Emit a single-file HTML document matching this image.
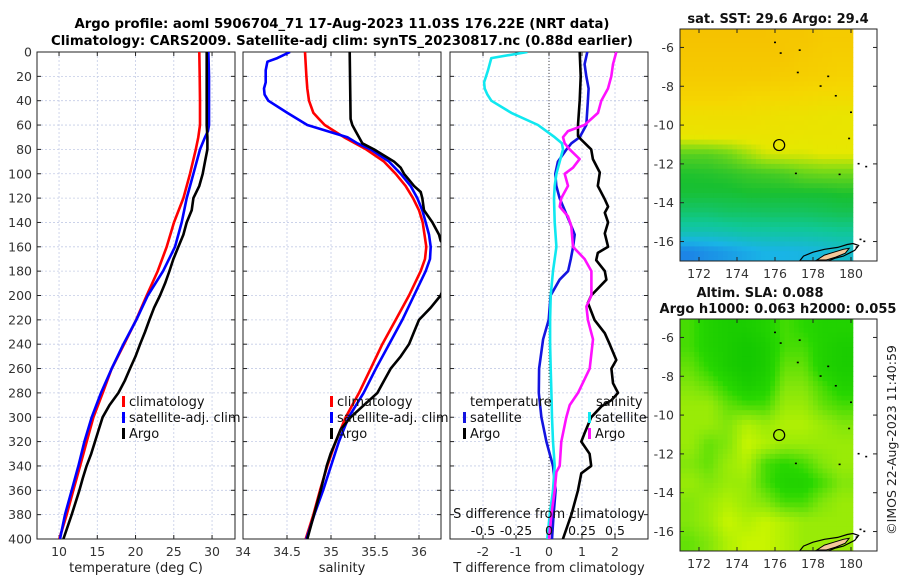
<!DOCTYPE html>
<html><head><meta charset="utf-8"><style>
html,body{margin:0;padding:0;background:#fff;}
svg{display:block;font-family:"DejaVu Sans","Liberation Sans",sans-serif;}
</style></head><body>
<svg id="fig" width="900" height="580" viewBox="0 0 900 580" xmlns="http://www.w3.org/2000/svg">
<defs>
<clipPath id="c1"><rect x="37" y="52" width="198" height="487"/></clipPath>
<clipPath id="c2"><rect x="243" y="52" width="198" height="487"/></clipPath>
<clipPath id="c3"><rect x="450" y="52" width="198" height="487"/></clipPath>
<clipPath id="m1"><rect x="680" y="29" width="197" height="232"/></clipPath>
<clipPath id="m2"><rect x="680" y="319" width="197" height="232"/></clipPath>
</defs>
<text x="342" y="28" text-anchor="middle" font-weight="bold" font-size="13" textLength="535" lengthAdjust="spacingAndGlyphs">Argo profile: aoml 5906704_71 17-Aug-2023 11.03S 176.22E (NRT data)</text>
<text x="342" y="45" text-anchor="middle" font-weight="bold" font-size="13" textLength="582" lengthAdjust="spacingAndGlyphs">Climatology: CARS2009. Satellite-adj clim: synTS_20230817.nc (0.88d earlier)</text>
<g id="layer"></g>
</svg>
<script>
// ---------- data: panel 1 temperature ----------
const climTDepth=[0,20,40,60,70,80,100,120,140,160,180,200,220,240,260,280,300,320,340,360,380,400];
const climT=[28.34,28.39,28.43,28.43,28.2,27.87,27.12,26.25,25.03,24.07,22.9,21.46,20.07,18.5,16.88,15.71,14.49,13.62,12.75,11.87,11.0,10.04];
const satTDepth=[0,20,40,60,65,70,80,100,120,140,160,180,200,220,240,260,280,300,320,340,360,380,400];
const satT=[29.52,29.6,29.6,29.6,29.47,29.08,28.43,27.56,26.69,26.03,25.16,23.6,21.6,20.1,18.41,16.88,15.49,14.27,13.31,12.53,11.66,10.78,10.13];
const argoTDepth=[0,20,40,60,70,80,90,100,110,120,130,140,150,160,170,180,190,200,210,220,230,240,250,260,270,280,290,300,310,320,330,340,350,360,380,400];
const argoT=[29.3,29.3,29.3,29.3,29.39,29.39,29.08,28.78,28.34,27.56,27.34,26.69,26.25,25.6,24.95,24.42,23.86,23.2,22.42,21.81,21.24,20.6,20.0,19.28,18.6,17.76,16.6,15.7,15.2,14.7,14.2,13.6,13.1,12.66,11.66,10.57];
// ---------- data: panel 2 salinity ----------
const climSDepth=[0,10,20,30,40,50,55,60,70,80,90,100,110,120,130,140,160,170,180,200,220,240,260,280,300,320,340,360,380,400];
const climS=[34.705,34.712,34.72,34.731,34.75,34.80,34.864,34.928,35.148,35.4,35.602,35.735,35.848,35.932,36.0,36.042,36.083,36.068,36.019,35.886,35.735,35.583,35.451,35.318,35.167,35.053,34.958,34.875,34.80,34.712];
const satSDepth=[0,5,8,15,25,30,35,40,50,60,70,75,80,90,100,110,120,130,140,150,160,170,180,200,220,240,260,280,300,320,340,360,380,400];
const satS=[34.534,34.39,34.277,34.258,34.258,34.239,34.246,34.288,34.504,34.731,35.186,35.3,35.451,35.659,35.792,35.905,35.981,36.038,36.076,36.114,36.133,36.125,36.076,35.943,35.81,35.66,35.51,35.37,35.2,35.09,35.0,34.91,34.81,34.72];
const argoSDepth=[0,55,60,65,70,75,80,85,90,95,100,105,110,115,120,130,140,150,155,160,170,180,190,200,210,220,230,240,250,260,270,280,290,300,310,320,330,340,360,380,400];
const argoS=[35.212,35.223,35.242,35.28,35.318,35.356,35.489,35.602,35.716,35.792,35.83,35.886,35.943,36.019,36.038,36.057,36.152,36.227,36.246,36.3,36.35,36.35,36.3,36.246,36.133,36.0,35.943,35.886,35.792,35.678,35.602,35.527,35.375,35.223,35.11,35.053,34.996,34.951,34.883,34.807,34.731];
// ---------- data: panel 3 differences ----------
const satDTDepth=[0,10,20,30,40,60,70,75,80,90,100,110,120,140,150,160,170,180,187,200,220,236,260,280,300,320,340,360,380,400];
const satDT=[1.16,1.08,1.13,1.2,1.18,1.13,0.93,0.68,0.53,0.27,0.19,0.22,0.32,0.63,0.78,0.73,0.66,0.58,0.32,0.05,-0.01,-0.18,-0.3,-0.31,-0.23,-0.08,0.12,0.2,0.14,0.09];
const argoDTDepth=[0,20,40,60,69,72,80,88,99,110,121,127,132,140,149,160,165,171,180,187,200,206,220,231,240,253,260,272,280,286,291,300,313,320,330,340,346,360,380,400];
const argoDT=[0.93,0.96,0.93,0.88,0.88,0.98,1.28,1.33,1.54,1.48,1.69,1.79,1.69,1.79,1.69,1.79,1.48,1.43,1.69,1.74,1.28,1.18,1.38,1.69,1.84,2.04,1.89,1.94,2.09,1.89,1.59,1.28,1.08,0.98,1.23,1.28,0.98,0.88,0.68,0.42];
const satDSDepth=[0,5,15,25,30,35,40,50,60,70,75,80,90,100,110,120,140,160,180,200,220,240,260,280,300,320,340,360,380,400];
const satDS=[-0.164,-0.437,-0.462,-0.492,-0.487,-0.467,-0.437,-0.285,-0.083,0.043,0.098,0.106,0.081,0.056,0.043,0.038,0.043,0.056,0.03,0.013,0.008,0.008,0.013,0.018,0.023,0.03,0.043,0.03,0.005,-0.013];
const argoDSDepth=[0,10,20,30,40,50,60,65,70,75,80,88,95,100,110,120,127,135,143,160,170,180,200,209,220,236,260,280,290,300,320,340,345,360,380,400];
const argoDS=[0.51,0.485,0.472,0.447,0.396,0.371,0.27,0.144,0.106,0.119,0.157,0.232,0.182,0.119,0.144,0.093,0.081,0.144,0.169,0.182,0.27,0.321,0.321,0.283,0.295,0.333,0.308,0.22,0.157,0.131,0.093,0.081,0.056,0.043,0.018,0];
// ---------- ticks ----------
const depthTicks=[0,20,40,60,80,100,120,140,160,180,200,220,240,260,280,300,320,340,360,380,400];
const tempTicks=[10,15,20,25,30];
const salTicks=[34,34.5,35,35.5,36];
const dTTicks=[-2,-1,0,1,2];
const dSTicks=[-0.5,-0.25,0,0.25,0.5];
const dSTickLabels=["-0.5","-0.25","0","0.25","0.5"];
// ---------- map data ----------
const mapLons=[171.5,172.5,173.5,174.5,175.5,176.5,177.5,178.5,179.5];
const mapLats=[-5.5,-6.5,-7.5,-8.5,-9.5,-10.5,-11.5,-12.5,-13.5,-14.5,-15.5,-16.5];
const sstRows=[
[29.85,29.85,29.85,29.85,29.85,29.8,29.8,29.75,29.75],
[29.8,29.8,29.8,29.8,29.8,29.8,29.75,29.72,29.7],
[29.75,29.75,29.75,29.75,29.75,29.72,29.7,29.68,29.65],
[29.65,29.65,29.65,29.62,29.6,29.6,29.58,29.55,29.55],
[29.5,29.5,29.5,29.5,29.48,29.45,29.45,29.42,29.4],
[29.4,29.42,29.42,29.42,29.42,29.42,29.4,29.4,29.4],
[29.05,29.05,29.1,29.2,29.3,29.32,29.32,29.35,29.35],
[28.92,28.93,28.95,28.98,29.0,29.02,29.08,29.1,29.1],
[28.88,28.88,28.88,28.9,28.9,28.9,28.9,28.9,28.92],
[28.72,28.72,28.75,28.75,28.76,28.76,28.76,28.78,28.8],
[28.5,28.5,28.52,28.55,28.55,28.56,28.56,28.58,28.6],
[28.1,28.15,28.2,28.25,28.3,28.3,28.32,28.35,28.4]];
const slaRows=[
[0.09,0.07,0.06,0.06,0.07,0.09,0.08,0.07,0.07],
[0.09,0.07,0.06,0.05,0.06,0.09,0.09,0.07,0.06],
[0.10,0.08,0.06,0.05,0.06,0.10,0.10,0.07,0.06],
[0.11,0.10,0.08,0.06,0.07,0.11,0.11,0.09,0.07],
[0.12,0.12,0.10,0.09,0.09,0.12,0.12,0.10,0.09],
[0.12,0.12,0.11,0.13,0.12,0.13,0.13,0.12,0.11],
[0.12,0.10,0.11,0.14,0.13,0.12,0.12,0.12,0.12],
[0.11,0.10,0.12,0.13,0.09,0.08,0.09,0.11,0.12],
[0.12,0.11,0.12,0.12,0.09,0.07,0.07,0.09,0.11],
[0.11,0.12,0.13,0.12,0.11,0.09,0.09,0.11,0.12],
[0.11,0.12,0.14,0.13,0.14,0.13,0.12,0.12,0.12],
[0.10,0.11,0.13,0.14,0.14,0.13,0.12,0.12,0.12]];
const islands=[[176.0,-5.75],[176.3,-6.3],[177.3,-6.15],[177.2,-7.3],[178.8,-7.5],[178.4,-8.0],[179.2,-8.5],[180.0,-9.35],[179.9,-10.7],[177.1,-12.5],[179.4,-12.55],[180.4,-12.0],[180.8,-12.15],[180.5,-15.9],[180.7,-16.0],[180.3,-16.3]];
const fijiOutline=[[177.3,-17.0],[177.5,-16.75],[178.0,-16.55],[178.6,-16.4],[179.3,-16.3],[179.8,-16.15],[180.1,-16.1],[180.4,-16.2],[180.2,-16.45],[179.9,-16.6],[179.6,-16.75],[179.2,-16.85],[178.8,-17.0]];
const fijiLand=[[178.2,-16.95],[178.6,-16.7],[179.1,-16.55],[179.6,-16.4],[179.9,-16.35],[179.7,-16.6],[179.2,-16.8],[178.7,-16.95]];
const argoPos=[176.22,-11.03];
const mapLatTicks=[-6,-8,-10,-12,-14,-16];
const mapLonTicks=[172,174,176,178,180];

const NS='http://www.w3.org/2000/svg';
const L=document.getElementById('layer');
function mk(tag,attrs,parent){const e=document.createElementNS(NS,tag);for(const k in attrs)e.setAttribute(k,attrs[k]);(parent||L).appendChild(e);return e;}
const TOP=52,BOT=539;
const yD=d=>TOP+(d/400)*(BOT-TOP);
function lin(d0,d1,r0,r1){return v=>r0+(v-d0)/(d1-d0)*(r1-r0);}
const P=[
 {x0:37,x:lin(7.12,33,37,235),clip:'c1',name:'temperature-panel'},
 {x0:243,x:lin(34,36.25,243,441),clip:'c2',name:'salinity-panel'},
 {x0:450,x:lin(-3,3,450,648),clip:'c3',name:'difference-panel'}];
const xS3=lin(-0.75,0.75,450,648);

function panelFrame(p,ticks){
  const g=mk('g',{});
  
  
  depthTicks.forEach(d=>{mk('line',{x1:p.x0,x2:p.x0+198,y1:yD(d),y2:yD(d),stroke:'#c4cce6','stroke-width':0.8,'stroke-dasharray':'2,2'},g);
    mk('line',{x1:p.x0,x2:p.x0+4,y1:yD(d),y2:yD(d),stroke:'#222'},g);
    mk('line',{x1:p.x0+194,x2:p.x0+198,y1:yD(d),y2:yD(d),stroke:'#222'},g);});
  ticks.forEach(t=>{const x=p.x(t);mk('line',{x1:x,x2:x,y1:TOP,y2:BOT,stroke:'#c4cce6','stroke-width':0.8,'stroke-dasharray':'2,2'},g);
    mk('line',{x1:x,x2:x,y1:TOP,y2:TOP+4,stroke:'#222'},g);mk('line',{x1:x,x2:x,y1:BOT-4,y2:BOT,stroke:'#222'},g);
    const t1=mk('text',{x:x,y:556,'text-anchor':'middle','font-size':12.5,fill:'#333'},g);t1.textContent=String(t);
    
    });
  mk('rect',{x:p.x0,y:TOP,width:198,height:BOT-TOP,fill:'none',stroke:'#222','stroke-width':1},g);
}
panelFrame(P[0],tempTicks);panelFrame(P[1],salTicks);panelFrame(P[2],dTTicks);
depthTicks.forEach(d=>{const t=mk('text',{x:32,y:yD(d)+4.5,'text-anchor':'end','font-size':12.5,fill:'#333'});t.textContent=String(d);
  
  });
const zl=mk('line',{x1:P[2].x(0),x2:P[2].x(0),y1:TOP,y2:BOT,stroke:'#444','stroke-width':1,'stroke-dasharray':'1,2'});



function curve(xf,vals,depths,color,clip,name){
  let d='';vals.forEach((v,i)=>{d+=(i?'L':'M')+xf(v).toFixed(1)+','+yD(depths[i]).toFixed(1);});
  const e=mk('path',{d:d,fill:'none',stroke:color,'stroke-width':2.6,'stroke-linejoin':'round','clip-path':'url(#'+clip+')'});
  
  
}
curve(P[0].x,climT,climTDepth,'#ff0000','c1','climatology-temperature-line');
curve(P[0].x,satT,satTDepth,'#0000ff','c1','satellite-temperature-line');
curve(P[0].x,argoT,argoTDepth,'#000','c1','argo-temperature-line');
curve(P[1].x,climS,climSDepth,'#ff0000','c2','climatology-salinity-line');
curve(P[1].x,satS,satSDepth,'#0000ff','c2','satellite-salinity-line');
curve(P[1].x,argoS,argoSDepth,'#000','c2','argo-salinity-line');
curve(P[2].x,satDT,satDTDepth,'#1414e0','c3','satellite-t-diff-line');
curve(P[2].x,argoDT,argoDTDepth,'#000','c3','argo-t-diff-line');
curve(xS3,satDS,satDSDepth,'#10e8f0','c3','satellite-s-diff-line');
curve(xS3,argoDS,argoDSDepth,'#ff10ff','c3','argo-s-diff-line');

function txt(x,y,s,size,extra,name){const t=mk('text',Object.assign({x:x,y:y,'font-size':size,fill:'#111'},extra||{}));t.textContent=s;
  
  return t;}
function legendEntry(x,y,color,label,name){
  const r=mk('rect',{x:x,y:y-10,width:3,height:11,fill:color});
  
  
  txt(x+7,y,label,13,{},name);}
legendEntry(122,406,'#ff0000','climatology','legend-climatology');
legendEntry(122,422,'#0000ff','satellite-adj. clim','legend-satellite-adj');
legendEntry(122,438,'#000','Argo','legend-argo');
legendEntry(330,406,'#ff0000','climatology','legend-climatology-2');
legendEntry(330,422,'#0000ff','satellite-adj. clim','legend-satellite-adj-2');
legendEntry(330,438,'#000','Argo','legend-argo-2');
txt(470,406,'temperature',13,{},'legend-temperature-header');
legendEntry(463,422,'#1414e0','satellite','legend-t-satellite');
legendEntry(463,438,'#000','Argo','legend-t-argo');
txt(596,406,'salinity',13,{},'legend-salinity-header');
legendEntry(588,422,'#10e8f0','satellite','legend-s-satellite');
legendEntry(588,438,'#ff10ff','Argo','legend-s-argo');
txt(549,518,'S difference from climatology',13,{'text-anchor':'middle'},'s-axis-title');
dSTicks.forEach((t,i)=>txt(xS3(t),535,dSTickLabels[i],12.5,{'text-anchor':'middle'},'s-tick-label'));
txt(136,572,'temperature (deg C)',13,{'text-anchor':'middle',fill:'#222'},'x-axis-title-temperature');
txt(342,572,'salinity',13,{'text-anchor':'middle',fill:'#222'},'x-axis-title-salinity');
txt(549,572,'T difference from climatology',13,{'text-anchor':'middle',fill:'#222'},'x-axis-title-difference');

// ---------- maps ----------
function cmap(stops,v){
  if(v<=stops[0][0])return stops[0][1];
  for(let i=1;i<stops.length;i++){if(v<=stops[i][0]){const a=stops[i-1],b=stops[i],f=(v-a[0])/(b[0]-a[0]);
    return a[1].map((x,k)=>Math.round(x+(b[1][k]-x)*f));}}
  return stops[stops.length-1][1];}
const sstStops=[[28.0,[30,110,230]],[28.3,[25,180,230]],[28.6,[16,200,150]],[28.9,[24,192,48]],[29.15,[130,220,20]],[29.35,[230,232,0]],[29.6,[245,215,0]],[29.9,[245,190,0]]];
const slaStops=[[0.05,[20,200,0]],[0.08,[40,215,0]],[0.11,[130,230,10]],[0.14,[200,245,0]]];
const lonX=l=>680+(l-171.0)*19.0;
function sample(rows,lon,lat){
  let c=(lon-mapLons[0]),r=(mapLats[0]-lat);
  c=Math.max(0,Math.min(mapLons.length-1.001,c));r=Math.max(0,Math.min(mapLats.length-1.001,r));
  const c0=Math.floor(c),r0=Math.floor(r),fc=c-c0,fr=r-r0;
  const a=rows[r0][c0],b=rows[r0][c0+1],cc=rows[r0+1][c0],d=rows[r0+1][c0+1];
  return (a*(1-fc)+b*fc)*(1-fr)+(cc*(1-fc)+d*fc)*fr;
}
function drawMap(top,rows,stops,clip,name){
  const latY=l=>top+(-5.05-l)*19.41;
  const g=mk('g',{'clip-path':'url(#'+clip+')'});
  
  
  const step=0.25;
  for(let lat=-5.0;lat>-17.0;lat-=step){
    for(let lon=171.0;lon<180.1;lon+=step){
      const v=sample(rows,lon+step/2,lat-step/2);
      const col=cmap(stops,v);
      const x0=lonX(lon),x1=Math.min(lonX(lon+step),lonX(180.1));
      const cell=mk('rect',{x:x0.toFixed(1),y:latY(lat).toFixed(1),width:(x1-x0+0.4).toFixed(1),height:(step*19.41+0.4).toFixed(1),fill:'rgb('+col.join(',')+')'},g);
      
      
    }
  }
  const cg=mk('g',{'clip-path':'url(#'+clip+')'});
  
  
  const pth=pts=>pts.map((p,i)=>(i?'L':'M')+lonX(p[0]).toFixed(1)+','+latY(p[1]).toFixed(1)).join('')+'Z';
  mk('path',{d:pth(fijiOutline),fill:'none',stroke:'#000','stroke-width':1.2},cg);
  mk('path',{d:pth(fijiLand),fill:'#f4c89a',stroke:'#000','stroke-width':1},cg);
  islands.forEach(p=>mk('rect',{x:lonX(p[0])-1,y:latY(p[1])-1,width:2,height:1.6,fill:'#000'},cg));
  const circ=mk('circle',{cx:lonX(argoPos[0]),cy:latY(argoPos[1]),r:5.5,fill:'none',stroke:'#000','stroke-width':1.2});
  
  
  const ag=mk('g',{});
  
  
  mk('rect',{x:680,y:top,width:197,height:232,fill:'none',stroke:'#222'},ag);
  mapLatTicks.forEach(t=>{const y=latY(t);mk('line',{x1:680,x2:684,y1:y,y2:y,stroke:'#222'},ag);mk('line',{x1:873,x2:877,y1:y,y2:y,stroke:'#222'},ag);
    const tt=mk('text',{x:674,y:y+4.5,'text-anchor':'end','font-size':12.5,fill:'#333'},ag);tt.textContent=String(t);});
  mapLonTicks.forEach(t=>{const x=lonX(t);mk('line',{x1:x,x2:x,y1:top,y2:top+4,stroke:'#222'},ag);mk('line',{x1:x,x2:x,y1:top+228,y2:top+232,stroke:'#222'},ag);
    const tt=mk('text',{x:x,y:top+249,'text-anchor':'middle','font-size':12.5,fill:'#333'},ag);tt.textContent=String(t);});
}
drawMap(29,sstRows,sstStops,'m1','sst-map');
drawMap(319,slaRows,slaStops,'m2','sla-map');
txt(778,23,'sat. SST: 29.6 Argo: 29.4',13,{'text-anchor':'middle','font-weight':'bold'},'sst-map-title');
txt(760,297,'Altim. SLA: 0.088',13,{'text-anchor':'middle','font-weight':'bold'},'sla-map-title-1');
txt(778,313,'Argo h1000: 0.063 h2000: 0.055',13,{'text-anchor':'middle','font-weight':'bold','textLength':237,'lengthAdjust':'spacingAndGlyphs'},'sla-map-title-2');
txt(896,440,'©IMOS 22-Aug-2023 11:40:59',12.5,{'text-anchor':'middle',transform:'rotate(-90 896 440)',fill:'#222'},'imos-credit');
</script>
</body></html>
